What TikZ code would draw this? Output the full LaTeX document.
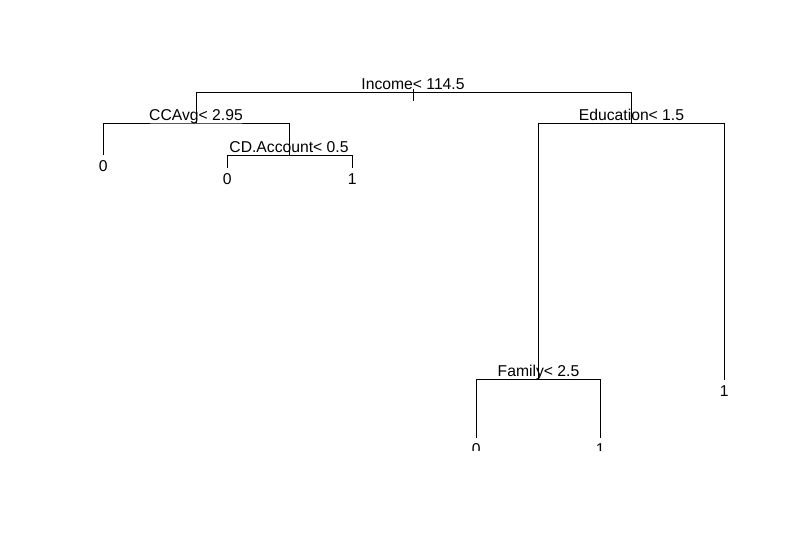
\documentclass[tikz,border=0pt]{standalone}
\usepackage{fontspec}
\setmainfont{Liberation Sans}

\begin{document}
\begin{tikzpicture}[x=1pt, y=-1pt,
    font=\fontsize{15.7}{18}\selectfont,
    line width=1pt,
    split/.style={anchor=base, inner sep=0pt, yshift=3pt},
    leaf/.style={anchor=north, inner sep=0pt, yshift=-5.5pt}
  ]
  \fill[white] (0,0) rectangle (790,550);
  \useasboundingbox (0,0) rectangle (790,550);

  % split points and leaf ends
  \coordinate (income) at (413,92.5);
  \coordinate (stubtop) at (413,89);
  \coordinate (stubbot) at (413,101);
  \coordinate (ccavg)  at (196,123);
  \coordinate (cdacc)  at (289,155.3);
  \coordinate (educ)   at (631.5,123.3);
  \coordinate (family) at (538.5,379.3);
  \coordinate (leafA)  at (103.3,155);
  \coordinate (leafB)  at (227.3,168);
  \coordinate (leafC)  at (352.3,168);
  \coordinate (leafD)  at (476.3,438);
  \coordinate (leafE)  at (600.3,438);
  \coordinate (leafF)  at (724.3,379.5);

  \begin{scope}
    \clip (0,0) rectangle (790,450.5);

    % branches
    \draw (stubtop) -- (stubbot);
    \draw (ccavg) |- (income) -| (educ);
    \draw (leafA) |- (ccavg) -| (cdacc);
    \draw (leafB) |- (cdacc) -| (leafC);
    \draw (family) |- (educ) -| (leafF);
    \draw (leafD) |- (family) -| (leafE);

    % split labels
    \node[split] (incomelab) at (income) {Income< 114.5};
    \node[split] (ccavglab)  at (ccavg)  {CCAvg< 2.95};
    \node[split] (cdacclab)  at (cdacc)  {CD.Account< 0.5};
    \node[split] (educlab)   at (educ)   {Education< 1.5};
    \node[split] (familylab) at (family) {Family< 2.5};

    % leaf labels
    \node[leaf] (leafAlab) at (leafA) {0};
    \node[leaf] (leafBlab) at (leafB) {0};
    \node[leaf] (leafClab) at (leafC) {1};
    \node[leaf] (leafDlab) at (leafD) {0};
    \node[leaf] (leafElab) at (leafE) {1};
    \node[leaf] (leafFlab) at (leafF) {1};
  \end{scope}
\end{tikzpicture}
\end{document}
